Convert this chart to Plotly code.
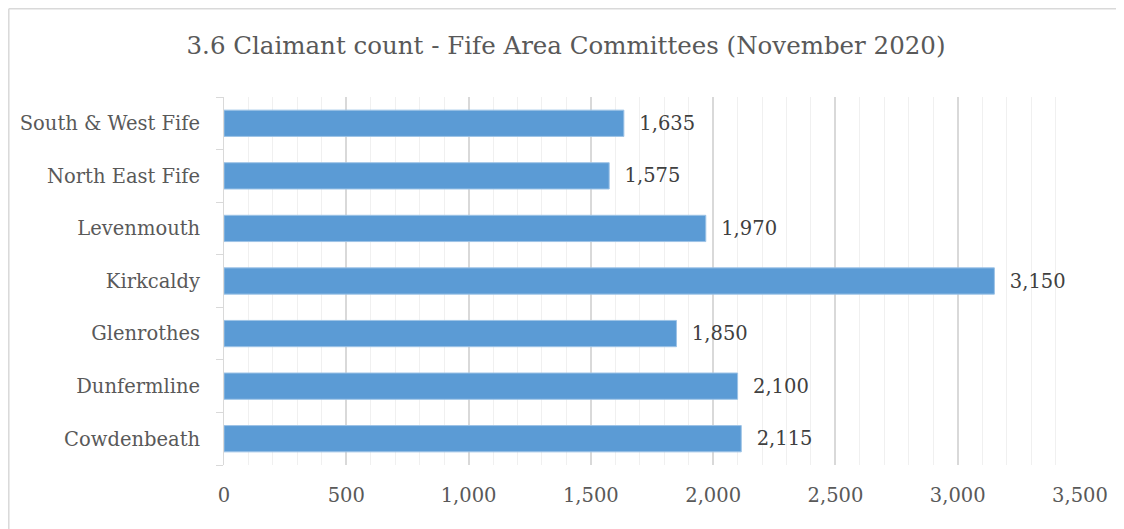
import plotly.graph_objects as go

areas = ["Cowdenbeath", "Dunfermline", "Glenrothes", "Kirkcaldy",
         "Levenmouth", "North East Fife", "South & West Fife"]
claimants = [2115, 2100, 1850, 3150, 1970, 1575, 1635]
x_ticks = [0, 500, 1000, 1500, 2000, 2500, 3000, 3500]
x_tick_labels = ["0", "500", "1,000", "1,500", "2,000", "2,500", "3,000", "3,500"]

FONT = "DejaVu Serif"
TEXT_COLOR = "#595959"

fig = go.Figure()

fig.add_trace(
    go.Bar(
        x=claimants,
        y=areas,
        orientation="h",
        width=0.5,
        marker=dict(color="#5B9BD5", line=dict(color="#9DC3E6", width=1)),
        text=[f"  {v:,}" for v in claimants],
        textposition="outside",
        textfont=dict(family=FONT, size=19.5, color="#404040"),
        cliponaxis=False,
    )
)

fig.update_xaxes(
    range=[0, 3500],
    tickvals=x_ticks,
    ticktext=x_tick_labels,
    tickfont=dict(family=FONT, size=19.5, color=TEXT_COLOR),
    showgrid=True,
    gridcolor="#D9D9D9",
    gridwidth=1.5,
    minor=dict(dtick=100, showgrid=True, gridcolor="#F0F0F0", gridwidth=1),
    zeroline=False,
    showline=False,
    ticks="",
    ticklabelstandoff=16,
    automargin=False,
)

fig.update_yaxes(
    tickfont=dict(family=FONT, size=19.5, color=TEXT_COLOR),
    showline=True,
    linecolor="#D9D9D9",
    linewidth=1,
    ticks="outside",
    tickson="boundaries",
    ticklen=7,
    tickcolor="#D9D9D9",
    showgrid=False,
    ticklabelstandoff=19,
    automargin=False,
)

# chart frame: only the top and left edges fall inside the window
frame_left = -215.2 / 856
frame_top = 1 + 88.2 / 368
frame = dict(color="#D9D9D9", width=1.5)

# page has an 8px body margin, so the figure is sized to fit inside the window
fig.update_layout(
    width=1116,
    height=521,
    margin=dict(l=216, r=44, t=89, b=64, autoexpand=False),
    paper_bgcolor="white",
    plot_bgcolor="white",
    showlegend=False,
    title=dict(
        text="3.6 Claimant count - Fife Area Committees (November 2020)",
        x=0.5,
        xanchor="center",
        y=0.929,
        yanchor="middle",
        font=dict(family=FONT, size=24.5, color=TEXT_COLOR),
    ),
    shapes=[
        dict(type="line", xref="paper", yref="paper",
             x0=frame_left, x1=1.1, y0=frame_top, y1=frame_top, line=frame),
        dict(type="line", xref="paper", yref="paper",
             x0=frame_left, x1=frame_left, y0=-0.3, y1=frame_top, line=frame),
    ],
)

fig.write_html("out.html")
